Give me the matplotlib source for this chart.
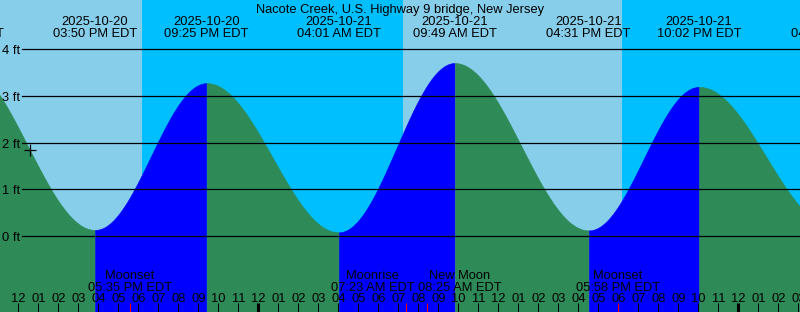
import numpy as np
import pandas as pd
import matplotlib
matplotlib.use("Agg")
from matplotlib import pyplot as plt
from matplotlib import transforms as mtrans

plt.rcParams['font.family'] = ['Liberation Sans', 'DejaVu Sans']

title = "Nacote Creek, U.S. Highway 9 bridge, New Jersey"

# high / low tides (EDT) and heights in ft
tide_times = ["2025-10-20 09:10", "2025-10-20 15:50", "2025-10-20 21:25", "2025-10-21 04:01",
              "2025-10-21 09:49", "2025-10-21 16:31", "2025-10-21 22:02", "2025-10-22 04:45"]
tide_heights = [3.68, 0.13, 3.27, 0.08, 3.70, 0.12, 3.19, 0.20]

# sunset, sunrise, sunset
sun_times = ["2025-10-20 18:11", "2025-10-21 07:13", "2025-10-21 18:10"]

moon_times = ["2025-10-20 17:35", "2025-10-21 07:23", "2025-10-21 08:25", "2025-10-21 17:58"]
moon_names = ["Moonset", "Moonrise", "New Moon", "Moonset"]

now_time = "2025-10-20 12:35"
start_time = "2025-10-20 11:05"
end_time = "2025-10-22 03:05"
levels = [0, 1, 2, 3, 4]

ref = pd.Timestamp("2025-10-21 00:00")
FS = 9.3


def hrs(t):
    return (pd.Timestamp(t) - ref).total_seconds() / 3600.0


def curve(x, tx, th):
    i = np.clip(np.searchsorted(tx, x, side='right') - 1, 0, len(tx) - 2)
    f = (x - tx[i]) / (tx[i + 1] - tx[i])
    return th[i] + (th[i + 1] - th[i]) * (1 - np.cos(np.pi * f)) / 2


W, H = 800, 312
fig = plt.figure(figsize=(W / 100, H / 100), dpi=100)
ax = fig.add_axes([0, 0, 1, 1])
ax.set_axis_off()

x0, x1 = hrs(start_time), hrs(end_time)
pxft = 46.75                 # pixels per foot
y0 = -(H - 236) / pxft
y1 = 236 / pxft
ax.set_xlim(x0, x1)
ax.set_ylim(y0, y1)

day_col = '#87ceeb'
night_col = '#00bfff'
rise_col = '#0000ff'
fall_col = '#2e8b57'

# nudge text down a little so glyphs sit where the reference has them
down = mtrans.ScaledTranslation(0, -1.5 / 72, fig.dpi_scale_trans)

# day / night background
edges = [x0] + [hrs(t) for t in sun_times] + [x1]
for k in range(len(edges) - 1):
    ax.axvspan(edges[k], edges[k + 1], color=day_col if k % 2 == 0 else night_col, lw=0, zorder=0)

# tide curve
tx = np.array([hrs(t) for t in tide_times])
th = np.array(tide_heights)
xs = np.linspace(tx[0], tx[-1], 3000)
ys = curve(xs, tx, th)
for i in range(len(tx) - 1):
    m = (xs >= tx[i]) & (xs <= tx[i + 1])
    c = rise_col if th[i + 1] > th[i] else fall_col
    ax.fill_between(xs[m], y0, ys[m], facecolor=c, edgecolor=c, lw=0.4, zorder=1)

# height lines
ytr = ax.get_yaxis_transform() + down
for lv in levels:
    ax.axhline(lv, xmin=22 / W, color='black', lw=0.9, zorder=3)
    ax.text(2 / W, lv, f"{lv} ft", transform=ytr, ha='left', va='center', fontsize=FS, zorder=4)

xtr = ax.get_xaxis_transform()
xtr_t = xtr + down

# title
ax.text(0.5, 1 - 7.5 / H, title, transform=ax.transAxes + down, ha='center', va='center',
        fontsize=FS, zorder=5)

# tide time labels
for t in tide_times:
    ts = pd.Timestamp(t)
    ax.text(hrs(t), 1 - 19.5 / H, ts.strftime("%Y-%m-%d"), transform=xtr_t,
            ha='center', va='center', fontsize=FS, zorder=5)
    ax.text(hrs(t), 1 - 31.5 / H, ts.strftime("%I:%M %p EDT"), transform=xtr_t,
            ha='center', va='center', fontsize=FS, zorder=5)

# hour ticks
for h in range(int(np.ceil(x0)), int(np.floor(x1)) + 1):
    lw = 2.2 if h % 24 == 0 else 0.75
    ax.plot([h, h], [0, 9 / H], transform=xtr, color='black', lw=lw, solid_capstyle='butt', zorder=4)
    hr = h % 12
    ax.text(h, 15 / H, f"{hr if hr else 12:02d}", transform=xtr_t,
            ha='center', va='center', fontsize=FS, zorder=4)

# moon events, labels pushed apart when they overlap
mx = [hrs(t) for t in moon_times]
lx = list(mx)
gap = 4.35
for k in range(len(lx) - 1):
    d = lx[k + 1] - lx[k]
    if d < gap:
        lx[k] -= (gap - d) / 2
        lx[k + 1] += (gap - d) / 2
for t, name, x, xl in zip(moon_times, moon_names, mx, lx):
    ax.plot([x, x], [0, 9 / H], transform=xtr, color='red', lw=0.75, solid_capstyle='butt', zorder=4)
    ax.text(xl, 1 - 273.5 / H, name, transform=xtr_t, ha='center', va='center', fontsize=FS, zorder=4)
    ax.text(xl, 1 - 286 / H, pd.Timestamp(t).strftime("%I:%M %p EDT"), transform=xtr_t,
            ha='center', va='center', fontsize=FS, zorder=4)

# current time marker
xn = hrs(now_time)
ax.plot([xn], [curve(np.array([xn]), tx, th)[0]], marker='+', color='black', ms=8, mew=0.9, zorder=5)

fig.savefig("out.png", dpi=100)
